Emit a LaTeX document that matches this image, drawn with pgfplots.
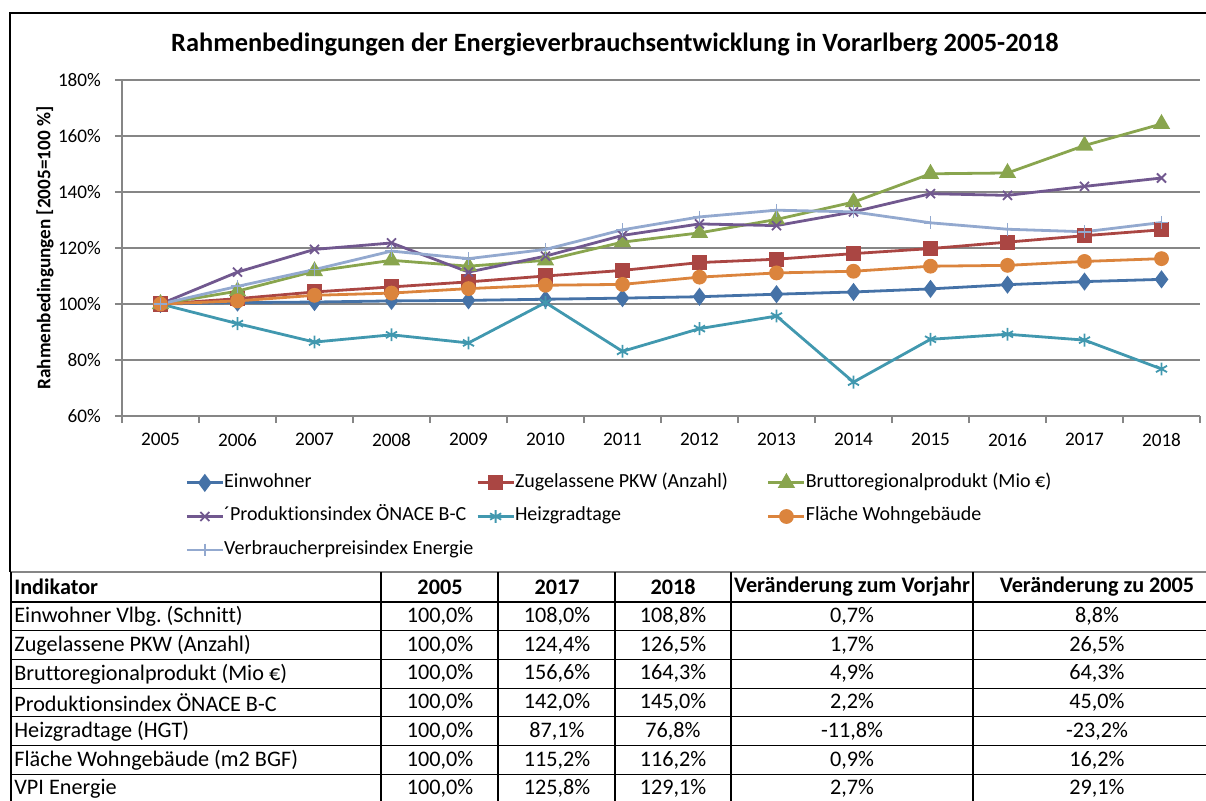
\documentclass[border=0pt]{standalone}
\usepackage{pgfplots}
\pgfplotsset{compat=1.18}
\usepackage{fontspec}
\setmainfont{Carlito}[Ligatures=NoCommon]
\frenchspacing
\definecolor{cEin}{HTML}{4572A7}
\definecolor{cPkw}{HTML}{AA4643}
\definecolor{cBru}{HTML}{89A54E}
\definecolor{cPro}{HTML}{71588F}
\definecolor{cHei}{HTML}{4198AF}
\definecolor{cFla}{HTML}{DB843D}
\definecolor{cVpi}{HTML}{93A9CF}
\definecolor{cGrid}{HTML}{868686}
\newcommand\trow[7]{%
  \node[anchor=west] at (14,#1) {#2};
  \node at (440,#1) {#3};
  \node at (557,#1) {#4};
  \node at (673,#1) {#5};
  \node at (852,#1) {#6};
  \node at (1097,#1) {#7};}
\begin{document}
\begin{tikzpicture}
\useasboundingbox (0,0) rectangle (603pt,400pt);
\clip (0,0) rectangle (603pt,400pt);
\begin{axis}[
  at={(61pt,192pt)}, anchor=south west, scale only axis,
  width=539pt, height=168pt,
  xmin=-0.5, xmax=13.5, ymin=60, ymax=180,
  xtick={-0.5,0.5,...,13.5},
  xticklabels={2005,2006,2007,2008,2009,2010,2011,2012,2013,2014,2015,2016,2017,2018,{}},
  xticklabel style={xshift=19.25pt, yshift=-1.5pt, font=\fontsize{9.6}{11}\selectfont},
  ytick={60,80,...,180},
  yticklabels={60\%,80\%,100\%,120\%,140\%,160\%,180\%},
  yticklabel style={xshift=-3.5pt, font=\fontsize{9.6}{11}\selectfont},
  axis x line=bottom, axis y line=left,
  axis line style={-, draw=cGrid, line width=0.75pt},
  ymajorgrids, grid style={draw=cGrid, line width=0.75pt},
  tick align=outside, major tick length=3.5pt,
  tick style={draw=cGrid, line width=0.75pt},
  clip=false,
  legend columns=3,
  legend cell align=left,
  legend style={at={(0.0529,-0.1577)}, anchor=north west, draw=none, fill=none,
    column sep=0pt, row sep=7.3pt, font=\fontsize{10}{12}\selectfont,
    nodes={inner sep=0pt, text height=7pt, text depth=2.5pt}},
  legend image code/.code={\draw[mark repeat=2,mark phase=2,#1] plot coordinates {(0pt,0pt) (9pt,0pt) (18pt,0pt)};},
  every axis plot/.append style={line width=1.4pt},
]
\addplot[cEin, mark=diamond*, mark size=3.4pt] coordinates {
(0,100) (1,100.5) (2,100.7) (3,101.1) (4,101.3) (5,101.7) (6,102.1) (7,102.6) (8,103.5) (9,104.3) (10,105.4) (11,106.9) (12,108.0) (13,108.8)};
\addlegendentry{\makebox[126pt][l]{Einwohner}}
\addplot[cPkw, mark=square*, mark size=3.1pt] coordinates {
(0,100) (1,101.9) (2,104.3) (3,106.1) (4,107.9) (5,110.0) (6,112.0) (7,114.8) (8,116.0) (9,118.0) (10,119.8) (11,122.1) (12,124.4) (13,126.5)};
\addlegendentry{\makebox[126pt][l]{Zugelassene PKW (Anzahl)}}
\addplot[cBru, mark=triangle*, mark size=3.6pt] coordinates {
(0,100) (1,104.6) (2,111.7) (3,115.6) (4,113.5) (5,115.6) (6,122.1) (7,125.4) (8,130.2) (9,136.4) (10,146.5) (11,146.8) (12,156.6) (13,164.3)};
\addlegendentry{Bruttoregionalprodukt (Mio €)}
\addplot[cPro, mark=x, mark size=3.2pt, mark options={line width=0.9pt}] coordinates {
(0,100) (1,111.4) (2,119.5) (3,121.8) (4,111.4) (5,117.1) (6,124.5) (7,128.6) (8,128.0) (9,132.9) (10,139.4) (11,138.8) (12,142.0) (13,145.0)};
\addlegendentry{\makebox[126pt][l]{´Produktionsindex ÖNACE B-C}}
\addplot[cHei, mark=asterisk, mark size=3.2pt, mark options={line width=0.9pt}] coordinates {
(0,100) (1,93.0) (2,86.4) (3,89.0) (4,86.1) (5,100.5) (6,83.1) (7,91.2) (8,95.7) (9,72.1) (10,87.4) (11,89.2) (12,87.1) (13,76.8)};
\addlegendentry{\makebox[126pt][l]{Heizgradtage}}
\addplot[cFla, mark=*, mark size=3.0pt] coordinates {
(0,100) (1,101.1) (2,103.1) (3,103.9) (4,105.5) (5,106.7) (6,107.0) (7,109.6) (8,111.1) (9,111.7) (10,113.5) (11,113.8) (12,115.2) (13,116.2)};
\addlegendentry{Fläche Wohngebäude}
\addplot[cVpi, mark=+, mark size=3.2pt, mark options={line width=0.9pt}] coordinates {
(0,100) (1,106.3) (2,112.3) (3,118.9) (4,116.2) (5,119.5) (6,126.5) (7,131.1) (8,133.5) (9,132.9) (10,129.0) (11,126.7) (12,125.8) (13,129.1)};
\addlegendentry{\makebox[126pt][l]{Verbraucherpreisindex Energie}}
\end{axis}
\begin{scope}[x=0.5pt,y=-0.5pt,yshift=400pt]
  \draw[black, line width=1pt] (10,572) -- (10,12.7) -- (1240,12.7);
  \node[font=\fontsize{13.2}{15}\selectfont\bfseries] at (615,44) {Rahmenbedingungen der Energieverbrauchsentwicklung in Vorarlberg 2005-2018};
  \node[rotate=90, font=\fontsize{9.6}{11}\selectfont\bfseries] at (45,248) {Rahmenbedingungen [2005=100 \%]};
  \draw[cGrid, line width=0.6pt] (11,572) -- (1240,572);
  \draw[black, line width=1pt] (11,602) -- (1240,602);
  \foreach \yy in {630.7,659.4,688.1,716.8,745.5,774.2}{\draw[black, line width=0.6pt] (11,\yy) -- (1240,\yy);}
  \foreach \xx in {11,381,498,615,731,973}{\draw[black, line width=0.6pt] (\xx,572) -- (\xx,810);}
  \begin{scope}[every node/.style={font=\fontsize{11.1}{13}\selectfont, inner sep=0pt}]
    \node[anchor=west, font=\fontsize{11.1}{13}\selectfont\bfseries] at (14,587) {Indikator};
    \node[font=\fontsize{11.1}{13}\selectfont\bfseries] at (440,587) {2005};
    \node[font=\fontsize{11.1}{13}\selectfont\bfseries] at (557,587) {2017};
    \node[font=\fontsize{11.1}{13}\selectfont\bfseries] at (673,587) {2018};
    \node[font=\fontsize{11.1}{13}\selectfont\bfseries] at (852,587) {Veränderung zum Vorjahr};
    \node[font=\fontsize{11.1}{13}\selectfont\bfseries] at (1097,587) {Veränderung zu 2005};
    \trow{616.4}{Einwohner Vlbg. (Schnitt)}{100,0\%}{108,0\%}{108,8\%}{0,7\%}{8,8\%}
    \trow{645.1}{Zugelassene PKW (Anzahl)}{100,0\%}{124,4\%}{126,5\%}{1,7\%}{26,5\%}
    \trow{673.8}{Bruttoregionalprodukt (Mio €)}{100,0\%}{156,6\%}{164,3\%}{4,9\%}{64,3\%}
    \trow{702.5}{Produktionsindex ÖNACE B-C}{100,0\%}{142,0\%}{145,0\%}{2,2\%}{45,0\%}
    \trow{731.2}{Heizgradtage (HGT)}{100,0\%}{87,1\%}{76,8\%}{-11,8\%}{-23,2\%}
    \trow{759.9}{Fläche Wohngebäude (m2 BGF)}{100,0\%}{115,2\%}{116,2\%}{0,9\%}{16,2\%}
    \trow{788.6}{VPI Energie}{100,0\%}{125,8\%}{129,1\%}{2,7\%}{29,1\%}
  \end{scope}
\end{scope}
\end{tikzpicture}
\end{document}
